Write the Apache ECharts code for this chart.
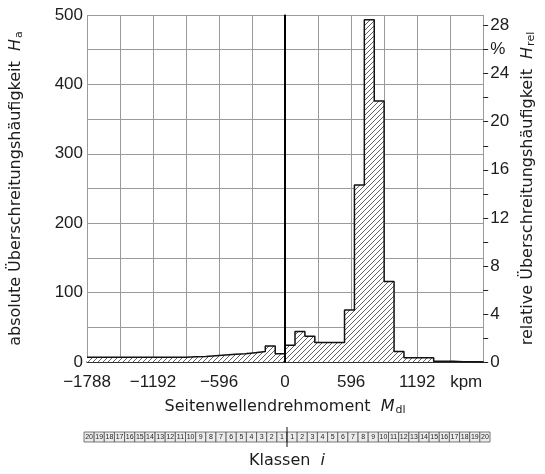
<!DOCTYPE html>
<html>
<head>
<meta charset="utf-8">
<script src="https://cdn.jsdelivr.net/npm/echarts@6/dist/echarts.min.js"></script>
<style>
  html, body { margin: 0; padding: 0; background: #fff; }
  #chart { width: 545px; height: 474px; }
</style>
</head>
<body>
<div id="chart"></div>
<script>
// Klassen links (20 ... 1) und rechts (1 ... 20) der Null
var negCounts = [7, 7, 7, 7, 7, 7, 7, 7, 7, 7, 7.5, 8, 9, 10, 11, 12, 13.5, 15, 23, 12];
var posCounts = [24, 44, 37, 28, 28, 28, 75, 255, 493, 376, 116, 15, 6, 6, 6, 1, 1, 0.5, 0.5, 0];
var classLabels = [20, 19, 18, 17, 16, 15, 14, 13, 12, 11, 10, 9, 8, 7, 6, 5, 4, 3, 2, 1,
                   1, 2, 3, 4, 5, 6, 7, 8, 9, 10, 11, 12, 13, 14, 15, 16, 17, 18, 19, 20];
var xLabels = [-1788, -1192, -596, 0, 596, 1192];
var classWidth = 89.4; // kpm
var xMin = -1788, xMax = 1788;

var counts = negCounts.concat(posCounts);
var total = counts.reduce(function (a, b) { return a + b; }, 0);
var relMax = 500 / total * 100; // 500 absolut entspricht relMax %

var bars = counts.map(function (v, i) {
    var lo = xMin + i * classWidth;
    return [lo, lo + classWidth, v];
});
var outline = counts.map(function (v, i) { return [xMin + i * classWidth, v]; });
outline.push([xMax, counts[counts.length - 1]]);
var strip = classLabels.map(function (c, i) {
    var lo = xMin + i * classWidth;
    return [lo, lo + classWidth, c];
});

// Schraffur
var hatch = document.createElement('canvas');
var n = 5;
hatch.width = n; hatch.height = n;
var ctx = hatch.getContext('2d');
ctx.fillStyle = '#fff';
ctx.fillRect(0, 0, n, n);
ctx.strokeStyle = '#3a3a3a';
ctx.lineWidth = 0.8;
ctx.beginPath();
ctx.moveTo(0, n); ctx.lineTo(n, 0);
ctx.moveTo(-1, 1); ctx.lineTo(1, -1);
ctx.moveTo(n - 1, n + 1); ctx.lineTo(n + 1, n - 1);
ctx.stroke();

var txt = '#1c1c1c';
var nameFont = 'DejaVu Sans';
var tickFont = 'Liberation Sans';
var nameRich = {
    i: { fontFamily: nameFont, fontSize: 16, fontStyle: 'italic', color: txt },
    s: { fontFamily: nameFont, fontSize: 11, color: txt, verticalAlign: 'bottom', padding: [7, 0, 0, 1] }
};

var myEchart = echarts.init(document.getElementById('chart'));
var option = {
    animation: false,
    grid: [
        { left: 84, right: 55, top: 15, bottom: 112 },
        { left: 84, right: 55, top: 432, height: 10 }
    ],
    xAxis: [{
        type: 'value',
        min: xMin,
        max: xMax,
        interval: 298,
        name: 'Seitenwellendrehmoment  {i|M}{s|dl}',
        nameLocation: 'middle',
        nameGap: 36,
        nameTextStyle: { fontFamily: nameFont, fontSize: 16, color: txt, rich: nameRich },
        axisLine: { lineStyle: { color: '#111', width: 1.5 } },
        axisTick: { show: false },
        splitLine: { show: true, lineStyle: { color: '#9a9a9a', width: 1 } },
        axisLabel: {
            margin: 12,
            fontFamily: tickFont,
            fontSize: 17,
            color: txt,
            showMaxLabel: true,
            formatter: function (v) {
                if (v === xMax) return '{k|kpm}';
                if (xLabels.indexOf(v) >= 0) return v < 0 ? '\u2212' + (-v) : String(v);
                return '';
            },
            rich: { k: { fontFamily: tickFont, fontSize: 17, color: txt, padding: [0, 34, 0, 0] } }
        }
    }, {
        type: 'value',
        gridIndex: 1,
        min: xMin,
        max: xMax,
        name: 'Klassen  {i|i}',
        nameLocation: 'middle',
        nameGap: 11,
        nameTextStyle: { fontFamily: nameFont, fontSize: 16, color: txt, rich: nameRich },
        axisLine: { show: false },
        axisTick: { show: false },
        axisLabel: { show: false },
        splitLine: { show: false }
    }],
    yAxis: [{
        type: 'value',
        min: 0,
        max: 500,
        interval: 50,
        name: 'absolute Überschreitungshäufigkeit  {i|H}{s|a}',
        nameLocation: 'middle',
        nameRotate: 90,
        nameGap: 62,
        nameTextStyle: { fontFamily: nameFont, fontSize: 16, color: txt, rich: nameRich },
        axisLine: { show: true, lineStyle: { color: '#111', width: 1.5 } },
        axisTick: { show: false },
        splitLine: { show: true, lineStyle: { color: '#9a9a9a', width: 1 } },
        axisLabel: {
            margin: 4,
            fontFamily: tickFont,
            fontSize: 17,
            color: txt,
            formatter: function (v) { return v % 100 === 0 ? String(v) : ''; }
        }
    }, {
        type: 'value',
        position: 'right',
        min: 0,
        max: relMax,
        interval: 2,
        name: 'relative Überschreitungshäufigkeit  {i|H}{s|rel}',
        nameLocation: 'middle',
        nameRotate: 90,
        nameGap: 34,
        nameTextStyle: { fontFamily: nameFont, fontSize: 16, color: txt, rich: nameRich },
        axisLine: { show: false },
        axisTick: { show: true, length: 5, lineStyle: { color: '#222', width: 1 } },
        splitLine: { show: false },
        axisLabel: {
            margin: 7,
            fontFamily: tickFont,
            fontSize: 17,
            color: txt,
            showMaxLabel: false,
            formatter: function (v) {
                if (Math.abs(v - 26) < 1e-6) return '%';
                if (Math.abs(v % 4) < 1e-6) return String(Math.round(v));
                return '';
            }
        }
    }, {
        type: 'value',
        gridIndex: 1,
        min: 0,
        max: 1,
        show: false
    }],
    series: [{
        type: 'custom',
        xAxisIndex: 0,
        yAxisIndex: 0,
        encode: { x: [0, 1], y: 2 },
        data: bars,
        z: 3,
        renderItem: function (params, api) {
            var p0 = api.coord([api.value(0), api.value(2)]);
            var p1 = api.coord([api.value(1), 0]);
            return {
                type: 'rect',
                shape: { x: p0[0], y: p0[1], width: p1[0] - p0[0] + 0.5, height: p1[1] - p0[1] },
                style: { fill: { image: hatch, repeat: 'repeat' }, stroke: null }
            };
        }
    }, {
        type: 'line',
        xAxisIndex: 0,
        yAxisIndex: 0,
        step: 'end',
        data: outline,
        symbol: 'none',
        z: 4,
        lineStyle: { color: '#111', width: 1.5 },
        markLine: {
            silent: true,
            symbol: ['none', 'none'],
            label: { show: false },
            lineStyle: { color: '#000', width: 2, type: 'solid' },
            data: [{ xAxis: 0 }]
        }
    }, {
        type: 'custom',
        xAxisIndex: 1,
        yAxisIndex: 2,
        encode: { x: [0, 1], y: 2 },
        data: strip,
        renderItem: function (params, api) {
            var p0 = api.coord([api.value(0), 1]);
            var p1 = api.coord([api.value(1), 0]);
            var children = [{
                type: 'rect',
                shape: { x: p0[0], y: p0[1], width: p1[0] - p0[0], height: p1[1] - p0[1] },
                style: { fill: '#ececec', stroke: '#444', lineWidth: 0.7 }
            }, {
                type: 'text',
                x: (p0[0] + p1[0]) / 2,
                y: (p0[1] + p1[1]) / 2,
                style: {
                    text: String(api.value(2)),
                    align: 'center',
                    verticalAlign: 'middle',
                    fontFamily: tickFont,
                    fontSize: 7,
                    fill: '#222'
                }
            }];
            if (params.dataIndex === 20) {
                var c0 = api.coord([api.value(0), -0.5]);
                var c1 = api.coord([api.value(0), 1.5]);
                children.push({
                    type: 'line',
                    shape: { x1: c0[0], y1: c0[1], x2: c1[0], y2: c1[1] },
                    style: { stroke: '#111', lineWidth: 1 }
                });
            }
            return { type: 'group', children: children };
        }
    }]
};
myEchart.setOption(option);
</script>
</body>
</html>
